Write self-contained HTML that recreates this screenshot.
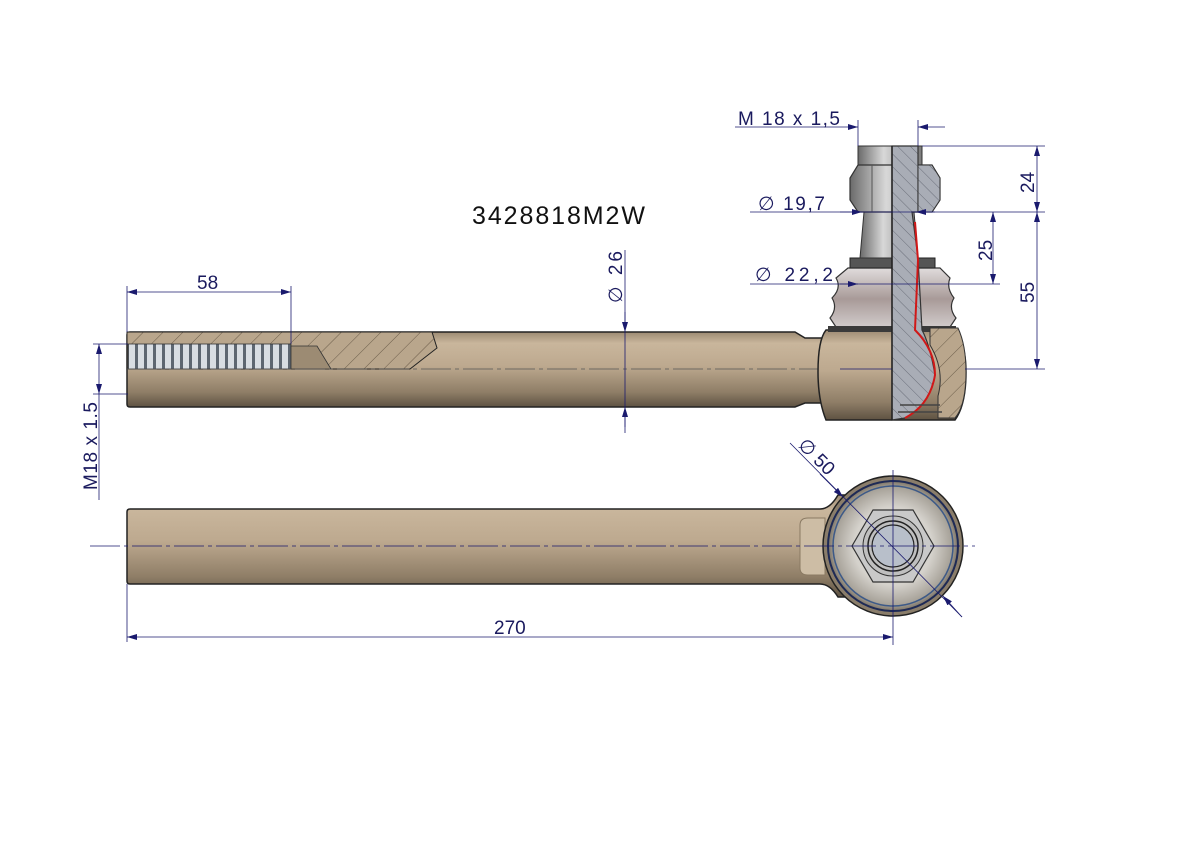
<!DOCTYPE html>
<html><head><meta charset="utf-8"><style>
html,body{margin:0;padding:0;background:#fff;}
svg{display:block;}
text{font-family:"Liberation Sans","DejaVu Sans",sans-serif;fill:#1a1a5e;}
</style></head><body>
<svg width="1191" height="842" viewBox="0 0 1191 842" xmlns="http://www.w3.org/2000/svg">
<defs>
<linearGradient id="rod" x1="0" y1="0" x2="0" y2="1">
<stop offset="0" stop-color="#9c8a72"/><stop offset="0.15" stop-color="#c9b69c"/><stop offset="0.45" stop-color="#bda98f"/><stop offset="0.8" stop-color="#8f7e67"/><stop offset="1" stop-color="#5e5242"/>
</linearGradient>
<linearGradient id="boot" x1="0" y1="0" x2="0" y2="1">
<stop offset="0" stop-color="#e0dcdc"/><stop offset="0.5" stop-color="#a89a98"/><stop offset="1" stop-color="#d5d0d0"/>
</linearGradient>
<linearGradient id="metal" x1="0" y1="0" x2="1" y2="0">
<stop offset="0" stop-color="#6a6a6a"/><stop offset="0.4" stop-color="#d8d8d8"/><stop offset="1" stop-color="#7a7a7a"/>
</linearGradient>
<radialGradient id="eye" cx="0.5" cy="0.5" r="0.5">
<stop offset="0.6" stop-color="#d5d2cc"/><stop offset="0.9" stop-color="#a8a39a"/><stop offset="1" stop-color="#7d7466"/>
</radialGradient>
<pattern id="hatch" width="14" height="14" patternUnits="userSpaceOnUse" patternTransform="rotate(45)">
<rect width="14" height="14" fill="#b9a68c"/><line x1="0" y1="0" x2="0" y2="14" stroke="#6b5d4a" stroke-width="1"/>
</pattern>
<pattern id="hatchg" width="9" height="9" patternUnits="userSpaceOnUse" patternTransform="rotate(-45)">
<rect width="9" height="9" fill="#a9adb6"/><line x1="0" y1="0" x2="0" y2="9" stroke="#5b5f6a" stroke-width="0.8"/>
</pattern>
<pattern id="thread" width="9" height="25" patternUnits="userSpaceOnUse">
<rect width="9" height="25" fill="#d8dde2"/><rect x="0" width="3" height="25" fill="#5d6670"/>
</pattern>
<marker id="a" viewBox="0 0 10 6" refX="10" refY="3" markerWidth="10" markerHeight="6" orient="auto-start-reverse" markerUnits="userSpaceOnUse"><path d="M0,0 L10,3 L0,6 z" fill="#1a1a6e"/></marker>
</defs>

<!-- ===== TOP VIEW ROD ===== -->
<path d="M130,332 L795,332 L805,338 L830,338 L830,403 L805,403 L795,407 L130,407 Q127,407 127,404 L127,335 Q127,332 130,332 Z" fill="url(#rod)" stroke="#222" stroke-width="1.5"/>
<path d="M127,332 L432,332 L437,348 L410,369 L127,369 Z" fill="url(#hatch)" stroke="#222" stroke-width="1"/>
<rect x="128" y="344" width="163" height="25" fill="url(#thread)" stroke="#333" stroke-width="0.8"/>
<path d="M291,346 L317,346 L331,369 L291,369 Z" fill="#9c8b73" stroke="#333" stroke-width="0.8"/>
<line x1="127" y1="369" x2="820" y2="369" stroke="#555" stroke-width="0.8" stroke-dasharray="30,4,4,4"/>

<path d="M826,330 L955,330 Q966,345 966,372 Q966,405 955,420 L826,420 Q818,400 818,372 Q818,340 826,330 Z" fill="url(#rod)" stroke="#222" stroke-width="1.5"/>
<path d="M838,330 L830,318 Q838,308 832,298 Q842,288 836,278 L848,268 L940,268 L950,278 Q946,288 954,298 Q948,308 956,318 L948,330 Z" fill="url(#boot)" stroke="#333" stroke-width="1.2"/>
<rect x="850" y="258" width="85" height="10" fill="#555" stroke="#222"/>
<rect x="828" y="326" width="128" height="6" fill="#3a3a3a"/>
<path d="M864,212 L914,212 L918,258 L860,258 Z" fill="url(#metal)" stroke="#333"/>
<path d="M858,146 L922,146 L922,165 L858,165 Z" fill="url(#metal)" stroke="#333"/>
<path d="M858,165 L932,165 L940,178 L940,200 L932,212 L858,212 L850,200 L850,178 Z" fill="url(#metal)" stroke="#333" stroke-width="1.2"/>
<line x1="872" y1="165" x2="872" y2="212" stroke="#555"/>
<path d="M892,146 L918,146 L918,212 L912,212 L918,258 L922,330 Q930,345 935,375 Q930,405 905,418 L892,420 Z" fill="url(#hatchg)" stroke="#333" stroke-width="1.2"/>
<path d="M918,165 L932,165 L940,178 L940,200 L932,212 L918,212 Z" fill="url(#hatchg)" stroke="#333"/>
<path d="M930,328 L958,328 Q966,345 966,372 Q966,405 955,418 L938,418 L938,396 Q945,370 930,345 Z" fill="url(#hatch)" stroke="#333"/>
<path d="M915,222 L918,260 L915,330 Q935,350 935,375 Q930,405 905,418" fill="none" stroke="#d01818" stroke-width="2"/>
<path d="M900,405 L940,405 M898,412 L942,412" stroke="#444" stroke-width="1.5"/>
<line x1="892" y1="146" x2="892" y2="420" stroke="#222" stroke-width="1.5"/>

<!-- ===== BOTTOM VIEW ROD ===== -->
<path d="M130,509 L820,509 Q830,509 838,495 L848,495 L848,597 L838,597 Q830,584 820,584 L130,584 Q127,584 127,581 L127,512 Q127,509 130,509 Z" fill="url(#rod)" stroke="#222" stroke-width="1.5"/>
<path d="M800,525 Q800,518 808,518 L825,518 L825,575 L808,575 Q800,575 800,568 Z" fill="#cdbda5" stroke="#8a7a63"/>
<circle cx="893" cy="546" r="70" fill="#8a7d6a" stroke="#222" stroke-width="1.5"/>
<circle cx="893" cy="546" r="65" fill="url(#eye)" stroke="#1e2a55" stroke-width="2"/>
<circle cx="893" cy="546" r="60" fill="none" stroke="#3d5a88" stroke-width="1.5"/>
<path d="M873,510 L913,510 L934,546 L913,582 L873,582 L852,546 Z" fill="#c9c9c9" stroke="#333" stroke-width="1.2"/>
<circle cx="893" cy="546" r="30" fill="#bfbfbf" stroke="#333"/>
<circle cx="893" cy="546" r="25" fill="none" stroke="#222" stroke-width="1.5"/>
<circle cx="893" cy="546" r="21" fill="#b8bfca" stroke="#222" stroke-width="1.2"/>
<line x1="90" y1="546" x2="975" y2="546" stroke="#1a1a6e" stroke-width="0.8" stroke-dasharray="30,4,4,4"/>
<line x1="893" y1="470" x2="893" y2="645" stroke="#1a1a6e" stroke-width="0.8"/>

<!-- ===== DIMENSIONS ===== -->
<g stroke="#1a1a6e" stroke-width="0.8" fill="none">
<line x1="127" y1="286" x2="127" y2="332"/><line x1="291" y1="286" x2="291" y2="344"/>
<line x1="127" y1="292" x2="291" y2="292" marker-start="url(#a)" marker-end="url(#a)"/>
<line x1="93" y1="344" x2="128" y2="344"/><line x1="93" y1="394" x2="128" y2="394"/>
<line x1="99" y1="344" x2="99" y2="394" marker-start="url(#a)" marker-end="url(#a)"/>
<line x1="99" y1="394" x2="99" y2="500"/>
<line x1="625" y1="250" x2="625" y2="433"/>
<line x1="625" y1="312" x2="625" y2="332" marker-end="url(#a)"/>
<line x1="625" y1="427" x2="625" y2="407" marker-end="url(#a)"/>
<line x1="858" y1="120" x2="858" y2="146"/><line x1="918" y1="120" x2="918" y2="146"/>
<line x1="735" y1="127" x2="858" y2="127" marker-end="url(#a)"/>
<line x1="945" y1="127" x2="918" y2="127" marker-end="url(#a)"/>
<line x1="750" y1="212" x2="1045" y2="212"/>
<line x1="840" y1="212" x2="862" y2="212" marker-end="url(#a)"/>
<line x1="935" y1="212" x2="916" y2="212" marker-end="url(#a)"/>
<line x1="750" y1="284" x2="1000" y2="284"/>
<line x1="840" y1="284" x2="858" y2="284" marker-end="url(#a)"/>
<line x1="922" y1="146" x2="1045" y2="146"/>
<line x1="965" y1="369" x2="1045" y2="369"/>
<line x1="1037" y1="146" x2="1037" y2="212" marker-start="url(#a)" marker-end="url(#a)"/>
<line x1="1037" y1="212" x2="1037" y2="369" marker-start="url(#a)" marker-end="url(#a)"/>
<line x1="993" y1="212" x2="993" y2="284" marker-start="url(#a)" marker-end="url(#a)"/>
<line x1="840" y1="369" x2="892" y2="369"/>
<line x1="127" y1="584" x2="127" y2="642"/>
<line x1="127" y1="637" x2="893" y2="637" marker-start="url(#a)" marker-end="url(#a)"/>
<line x1="790" y1="443" x2="962" y2="617"/>
<line x1="820" y1="474" x2="843" y2="497" marker-end="url(#a)"/>
<line x1="962" y1="617" x2="943" y2="596" marker-end="url(#a)"/>
</g>

<text x="472" y="224" font-size="25" textLength="173" style="fill:#111">3428818M2W</text>
<text x="197" y="289" font-size="19">58</text>
<text x="494" y="634" font-size="19">270</text>
<text x="738" y="125" font-size="19" textLength="102">M  18  x 1,5</text>
<text x="758" y="210" font-size="19" textLength="67">∅  19,7</text>
<text x="755" y="281" font-size="19" textLength="78">∅  22,2</text>
<text transform="translate(1034,193) rotate(-90)" font-size="19">24</text>
<text transform="translate(1034,303) rotate(-90)" font-size="19">55</text>
<text transform="translate(992,261) rotate(-90)" font-size="19">25</text>
<text transform="translate(622,303) rotate(-90)" font-size="19" textLength="52">∅  26</text>
<text transform="translate(97,490) rotate(-90)" font-size="19" textLength="88">M18 x 1.5</text>
<text transform="translate(797,446) rotate(45)" font-size="19">∅  50</text>
</svg>
</body></html>
